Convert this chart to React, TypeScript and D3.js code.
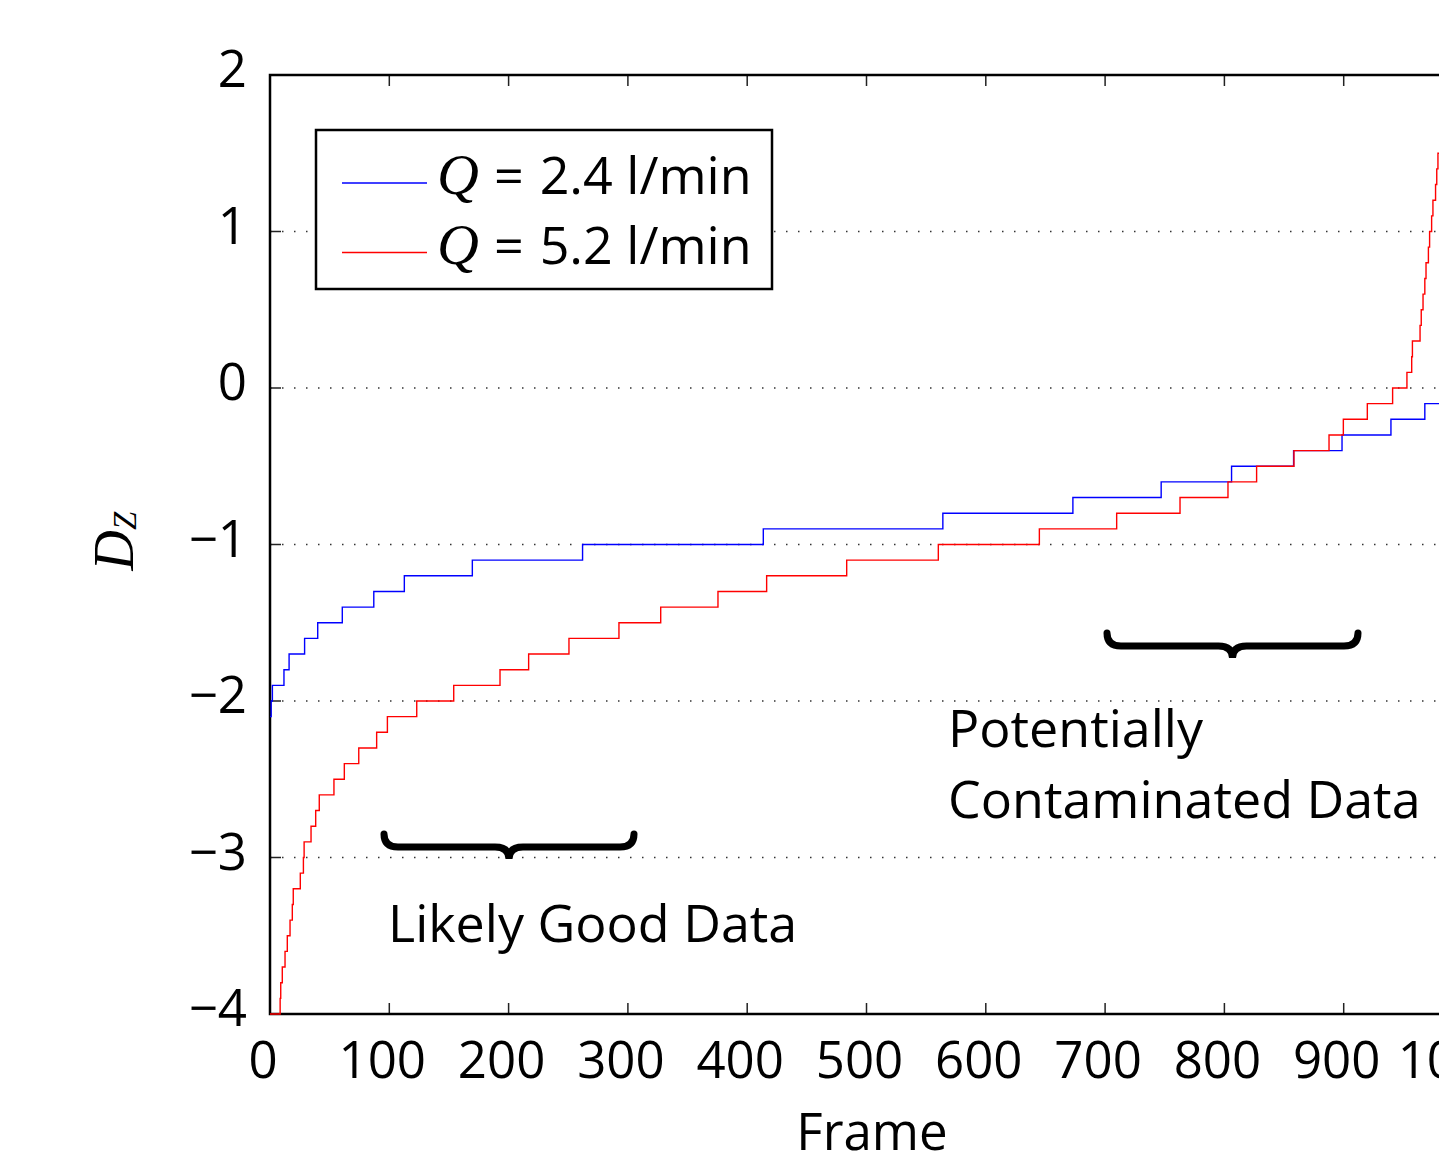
import React from "react";
import * as d3 from "d3";

const width = 1439;
const height = 1157;
const margin = { top: 75, left: 270, bottom: 143 };
const plotRight = 1463; // frame 1000 falls just past the picture edge

const xTicks = [0, 100, 200, 300, 400, 500, 600, 700, 800, 900, 1000];
const yTicks = [2, 1, 0, -1, -2, -3, -4];
const gridTicks = [1, 0, -1, -2, -3];

// Q = 2.4 l/min : frame where each step starts, and its Dz value
const blueFrames = [0, 1, 2, 11.7, 16, 29, 40, 60.6, 87, 112.6, 169.6, 262, 413.5, 564, 673, 747, 806, 858, 898.6, 939.6, 968, 982];
const blueValues = [-2.1, -2.0, -1.9, -1.8, -1.7, -1.6, -1.5, -1.4, -1.3, -1.2, -1.1, -1.0, -0.9, -0.8, -0.7, -0.6, -0.5, -0.4, -0.3, -0.2, -0.1, -0.1];

// Q = 5.2 l/min
const redFrames = [
  0, 8.5, 9, 10.3, 12.6, 14.5, 16.8, 18.7, 19.5, 25.4, 28, 28.6, 34.4, 38.3, 41.3,
  53.6, 62.3, 74.4, 89.4, 98.4, 123, 154, 192.8, 216.8, 250.6, 292.5, 327.5, 375.5,
  416.3, 483.4, 560.2, 644.9, 709.7, 762.8, 803, 827, 858.3, 887.7, 899.7, 919.8,
  941, 953, 957, 957.6, 964, 965, 966.5, 968, 969, 971, 972, 973.7, 974.8, 977, 978, 979, 982,
];
const redValues = [
  -4.0, -3.9, -3.8, -3.7, -3.6, -3.5, -3.4, -3.3, -3.2, -3.1, -3.0, -2.9, -2.8, -2.7, -2.6,
  -2.5, -2.4, -2.3, -2.2, -2.1, -2.0, -1.9, -1.8, -1.7, -1.6, -1.5, -1.4, -1.3,
  -1.2, -1.1, -1.0, -0.9, -0.8, -0.7, -0.6, -0.5, -0.4, -0.3, -0.2, -0.1,
  0.0, 0.1, 0.2, 0.3, 0.4, 0.5, 0.6, 0.7, 0.8, 0.9, 1.0, 1.1, 1.2, 1.3, 1.4, 1.5, 1.5,
];

const seriesLabels = ["2.4 l/min", "5.2 l/min"];
const seriesColors = ["#0000ff", "#ff0000"];

const sans = "'Open Sans', 'DejaVu Sans', sans-serif";
const serif = "'Liberation Serif', 'DejaVu Serif', serif";

const fmt = (v: number) => (v < 0 ? "\u2212" + Math.abs(v) : String(v));

// horizontal curly brace, tip pointing down
const brace = (x0: number, x1: number, y0: number) => {
  const xm = (x0 + x1) / 2;
  const y1 = y0 + 13;
  const y2 = y0 + 25;
  const r = 14;
  return `M${x0},${y0} Q${x0},${y1} ${x0 + r},${y1} L${xm - r},${y1} Q${xm},${y1} ${xm},${y2} Q${xm},${y1} ${xm + r},${y1} L${x1 - r},${y1} Q${x1},${y1} ${x1},${y0}`;
};

const App = () => {
  const x = d3.scaleLinear().domain([0, 1000]).range([margin.left, plotRight]);
  const y = d3.scaleLinear().domain([-4, 2]).range([height - margin.bottom, margin.top]);

  const line = d3
    .line<[number, number]>()
    .x((d) => x(d[0]))
    .y((d) => y(d[1]))
    .curve(d3.curveStepAfter);

  const blue = blueFrames.map((f, i) => [f, blueValues[i]] as [number, number]);
  const red = redFrames.map((f, i) => [f, redValues[i]] as [number, number]);

  const top = y(2);
  const bottom = y(-4);

  return (
    <svg
      width={width}
      height={height}
      style={{ position: "absolute", left: 0, top: 0, background: "#fff" }}
    >
      {/* dotted grid */}
      {gridTicks.map((t) => (
        <line
          key={"g" + t}
          x1={x(0)}
          x2={plotRight}
          y1={y(t)}
          y2={y(t)}
          stroke="#333"
          strokeWidth={1.5}
          strokeDasharray="1.5 10.5"
        />
      ))}

      {/* ticks */}
      {xTicks.map((t) => (
        <g key={"x" + t}>
          <line x1={x(t)} x2={x(t)} y1={bottom} y2={bottom - 11} stroke="#222" strokeWidth={1.5} />
          <line x1={x(t)} x2={x(t)} y1={top} y2={top + 11} stroke="#222" strokeWidth={1.5} />
          <text
            x={x(t) - 7}
            y={bottom + 64}
            textAnchor="middle"
            fontFamily={sans}
            fontSize={51}
          >
            {t}
          </text>
        </g>
      ))}
      {yTicks.map((t) => (
        <g key={"y" + t}>
          <line x1={x(0)} x2={x(0) + 11} y1={y(t)} y2={y(t)} stroke="#222" strokeWidth={1.5} />
          <text
            x={247}
            y={y(t) + 12}
            textAnchor="end"
            fontFamily={sans}
            fontSize={51}
          >
            {fmt(t)}
          </text>
        </g>
      ))}

      {/* box */}
      <rect
        x={x(0)}
        y={top}
        width={plotRight - x(0)}
        height={bottom - top}
        fill="none"
        stroke="#000"
        strokeWidth={2.5}
      />

      {/* data */}
      <path d={line(blue) || ""} fill="none" stroke={seriesColors[0]} strokeWidth={1.4} />
      <path d={line(red) || ""} fill="none" stroke={seriesColors[1]} strokeWidth={1.4} />

      {/* axis labels */}
      <text x={872} y={1150} textAnchor="middle" fontFamily={sans} fontSize={51}>
        Frame
      </text>
      <text
        transform="translate(133,541) rotate(-90)"
        textAnchor="middle"
        fontFamily={serif}
        fontStyle="italic"
        fontSize={56}
      >
        D
        <tspan fontSize={33} dy={3}>
          Z
        </tspan>
      </text>

      {/* legend */}
      <rect x={316} y={130} width={456} height={159} fill="#fff" stroke="#000" strokeWidth={2.5} />
      {seriesLabels.map((label, i) => {
        const ly = 183 + i * 69.5;
        return (
          <g key={label}>
            <line x1={342} x2={427} y1={ly} y2={ly} stroke={seriesColors[i]} strokeWidth={1.4} />
            <text x={437} y={ly + 11} fontSize={52}>
              <tspan fontFamily={serif} fontStyle="italic" fontSize={58}>
                Q
              </tspan>
              <tspan fontFamily={sans} dx={15}>
                =
              </tspan>
              <tspan fontFamily={sans} dx={16}>
                {label}
              </tspan>
            </text>
          </g>
        );
      })}

      {/* annotations */}
      <path d={brace(384, 634, 834)} fill="none" stroke="#000" strokeWidth={7} strokeLinecap="round" />
      <text x={388} y={942} fontFamily={sans} fontSize={52}>
        Likely Good Data
      </text>
      <path d={brace(1107, 1358, 633)} fill="none" stroke="#000" strokeWidth={7} strokeLinecap="round" />
      <text x={948} y={747} fontFamily={sans} fontSize={52}>
        Potentially
      </text>
      <text x={948} y={818} fontFamily={sans} fontSize={52}>
        Contaminated Data
      </text>
    </svg>
  );
};

export default App;
